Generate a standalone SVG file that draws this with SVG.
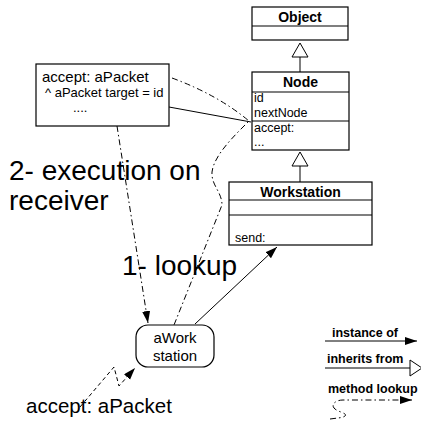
<svg xmlns="http://www.w3.org/2000/svg" width="421" height="425" viewBox="0 0 421 425">
<style>
text{font-family:"Liberation Sans",Arial,Helvetica,sans-serif;fill:#000}
.box{fill:#fff;stroke:#000;stroke-width:1.2}
.div{stroke:#000;stroke-width:1.2}
.title{font-weight:bold;font-size:14px;text-anchor:middle}
.mem{font-size:12.5px}
.leg{font-weight:bold;font-size:12.5px}
.big{font-size:28px}
.ln{fill:none;stroke:#000;stroke-width:1}
.dd{fill:none;stroke:#000;stroke-width:1;stroke-dasharray:6 3 1.5 3}
.ds{fill:none;stroke:#000;stroke-width:1;stroke-dasharray:4 3}
.tri{fill:#fff;stroke:#000;stroke-width:1}
</style>
<defs>
<marker id="arr" markerUnits="userSpaceOnUse" markerWidth="13" markerHeight="9" refX="12" refY="4" orient="auto">
<path d="M0,0 L12,4 L0,8 z" fill="#000"/>
</marker>
</defs>
<rect width="421" height="425" fill="#fff"/>

<g id="Object">
<rect class="box" x="252" y="7" width="96" height="33"/>
<line class="div" x1="252" y1="26" x2="348" y2="26"/>
<text class="title" x="300" y="22">Object</text>
</g>

<g id="Node">
<rect class="box" x="252" y="72" width="97" height="78"/>
<line class="div" x1="252" y1="92" x2="349" y2="92"/>
<line class="div" x1="252" y1="121" x2="349" y2="121"/>
<text class="title" x="300.5" y="87">Node</text>
<text class="mem" x="254" y="102">id</text>
<text class="mem" x="254" y="117">nextNode</text>
<text class="mem" x="254" y="132">accept:</text>
<text class="mem" x="254" y="146">...</text>
</g>

<g id="Workstation">
<rect class="box" x="229" y="182" width="143" height="63"/>
<line class="div" x1="229" y1="200" x2="372" y2="200"/>
<line class="div" x1="229" y1="215" x2="372" y2="215"/>
<text class="title" x="300.5" y="197">Workstation</text>
<text class="mem" x="235" y="242">send:</text>
</g>

<g id="note">
<rect class="box" x="36" y="64" width="133" height="62"/>
<text x="42" y="82" font-size="15">accept: aPacket</text>
<text x="45" y="97" font-size="13">^ aPacket target = id</text>
<text x="73" y="112" font-size="13">....</text>
</g>

<g id="aWorkstation">
<rect class="box" x="136" y="325" width="78" height="42" rx="12" ry="12"/>
<text x="175" y="343" font-size="15" text-anchor="middle">aWork</text>
<text x="175" y="361" font-size="15" text-anchor="middle">station</text>
</g>

<g id="connectors">
<line class="ln" x1="300" y1="57" x2="300" y2="72"/>
<polygon class="tri" points="300,43 308,57 292,57"/>
<line class="ln" x1="300" y1="166" x2="300" y2="182"/>
<polygon class="tri" points="300,152 308,166 292,166"/>
<line class="ln" x1="169" y1="107" x2="251" y2="122"/>
<path class="dd" d="M172,78 Q218,95 249,121 C235,135 214,155 212,172 C211,185 222,192 222,205 L174,325"/>
<line class="dd" x1="117" y1="126" x2="148" y2="323" marker-end="url(#arr)"/>
<line class="ln" x1="195" y1="324" x2="277" y2="247" marker-end="url(#arr)"/>
<path class="ds" d="M80,407 L114,367 L119,386 L135,368" marker-end="url(#arr)"/>
</g>

<g id="labels">
<text class="big" x="9" y="180">2- execution on</text>
<text class="big" x="9" y="210">receiver</text>
<text class="big" x="122" y="275">1- lookup</text>
<text x="26" y="413" font-size="20.5">accept: aPacket</text>
</g>

<g id="legend">
<text class="leg" x="332" y="337">instance of</text>
<line class="ln" x1="325" y1="341" x2="417" y2="341" marker-end="url(#arr)"/>
<text class="leg" x="327" y="363">inherits from</text>
<line class="ln" x1="325" y1="368" x2="410" y2="368"/>
<polygon class="tri" points="410,360 422,368 410,376"/>
<text class="leg" x="328" y="393">method lookup</text>
<path class="dd" d="M330,419 C336,418 343,418 345,416 C348,413 337,412 334,408 C331,404 336,400 343,400 L412,400" marker-end="url(#arr)"/>
</g>
</svg>
